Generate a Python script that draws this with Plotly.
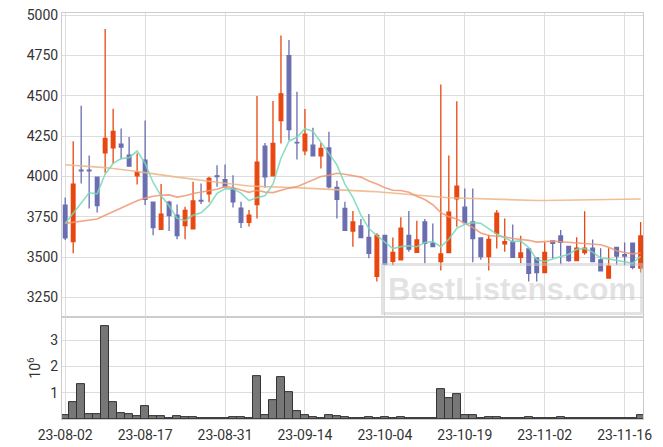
import plotly.graph_objects as go
from plotly.subplots import make_subplots

dates = ["23-08-02","23-08-03","23-08-04","23-08-07","23-08-08","23-08-09","23-08-10","23-08-11","23-08-14","23-08-16",
         "23-08-17","23-08-18","23-08-21","23-08-22","23-08-23","23-08-24","23-08-25","23-08-28","23-08-29","23-08-30",
         "23-08-31","23-09-01","23-09-04","23-09-05","23-09-06","23-09-07","23-09-08","23-09-11","23-09-12","23-09-13",
         "23-09-14","23-09-15","23-09-18","23-09-19","23-09-20","23-09-21","23-09-22","23-09-25","23-09-26","23-09-27",
         "23-10-04","23-10-05","23-10-06","23-10-10","23-10-11","23-10-12","23-10-13","23-10-16","23-10-17","23-10-18",
         "23-10-19","23-10-20","23-10-23","23-10-24","23-10-25","23-10-26","23-10-27","23-10-30","23-10-31","23-11-01",
         "23-11-02","23-11-03","23-11-06","23-11-07","23-11-08","23-11-09","23-11-10","23-11-13","23-11-14","23-11-15",
         "23-11-16","23-11-17","23-11-20"]

open_ = [3823,3596,4040,4040,3996,4146,4177,4200,4132,4004,
         4101,3841,3672,3841,3761,3695,3676,3852,3893,4004,
         3981,3924,3804,3716,3825,4188,4004,4346,4750,4212,
         4159,4194,4128,4177,3932,3802,3662,3693,3623,3380,
         3635,3474,3483,3635,3530,3718,3586,3472,3528,3862,
         3810,3718,3619,3503,3648,3582,3594,3499,3551,3495,
         3404,3600,3631,3567,3479,3528,3555,3483,3370,3561,
         3515,3586,3432]
high = [3870,4218,4439,4130,4000,4915,4420,4297,4245,4142,
        4348,3845,3953,3850,3827,3813,3967,3957,3998,4070,
        4074,4008,3843,3792,4499,4208,4468,4874,4847,4526,
        4418,4303,4208,4278,3973,3843,3786,3736,3767,3648,
        3637,3621,3747,3786,3726,3736,3709,4571,4130,4466,
        3926,3926,3621,3639,3792,3740,3703,3633,3553,3497,
        3592,3600,3668,3569,3623,3785,3610,3555,3555,3561,
        3590,3588,3718]
low = [3606,3524,3957,3802,3777,4023,4080,4107,4060,3951,
       3823,3635,3668,3662,3611,3611,3676,3829,3840,3936,
       3936,3808,3680,3690,3740,3930,4004,4204,4225,4105,
       4132,4128,4049,3926,3740,3666,3565,3621,3493,3349,
       3456,3450,3483,3534,3530,3462,3565,3417,3528,3689,
       3714,3468,3483,3417,3553,3534,3499,3462,3349,3349,
       3404,3493,3456,3472,3479,3514,3472,3415,3370,3452,
       3450,3425,3404]
close = [3619,3953,4035,4035,3819,4237,4280,4183,4064,4027,
         3858,3683,3767,3757,3633,3790,3848,3848,3988,4000,
         3936,3843,3716,3761,4089,3998,4206,4513,4291,4208,
         4262,4128,4175,3936,3858,3666,3718,3621,3524,3635,
         3456,3530,3679,3549,3606,3586,3565,3520,3779,3940,
         3714,3615,3503,3610,3773,3596,3499,3526,3400,3404,
         3530,3586,3592,3479,3555,3555,3472,3415,3446,3507,
         3507,3436,3631]

ma5 = [3709,3771,3837,3899,3892,4016,4081,4111,4117,4158,
       4082,3963,3880,3818,3740,3726,3759,3775,3821,3895,
       3924,3923,3897,3851,3869,3881,3954,4113,4219,4243,
       4296,4280,4213,4142,4072,3953,3871,3760,3677,3633,
       3591,3553,3565,3570,3564,3590,3597,3565,3611,3678,
       3704,3714,3710,3676,3643,3619,3596,3601,3559,3485,
       3472,3489,3502,3518,3548,3553,3531,3495,3489,3479,
       3469,3462,3505]
ma20 = [3709,3716,3722,3729,3736,3760,3783,3806,3828,3850,
        3866,3878,3884,3886,3872,3880,3895,3905,3913,3921,
        3937,3932,3916,3902,3915,3903,3900,3916,3928,3937,
        3957,3979,4000,4008,4020,4014,4007,3996,3972,3954,
        3930,3915,3913,3902,3878,3857,3825,3776,3750,3737,
        3709,3684,3650,3634,3629,3626,3615,3610,3604,3593,
        3596,3599,3595,3591,3589,3587,3582,3577,3561,3539,
        3529,3520,3526]
ma60 = [4073,4070,4067,4063,4060,4055,4050,4045,4038,4031,
        4024,4016,4008,4002,3996,3990,3982,3976,3970,3964,
        3958,3951,3945,3941,3939,3938,3936,3935,3932,3930,
        3928,3926,3924,3922,3920,3918,3915,3912,3908,3905,
        3901,3896,3891,3887,3883,3878,3873,3869,3868,3867,
        3865,3864,3862,3860,3858,3857,3855,3853,3852,3851,
        3851,3852,3852,3853,3854,3855,3857,3858,3859,3859,
        3860,3860,3860]

volume = [0.13,0.63,1.32,0.19,0.17,3.52,0.66,0.24,0.19,0.11,
          0.50,0.11,0.11,0.04,0.11,0.09,0.08,0.04,0.04,0.04,
          0.04,0.08,0.08,0.04,1.65,0.15,0.73,1.61,1.03,0.31,
          0.15,0.08,0.04,0.15,0.11,0.08,0.04,0.04,0.08,0.04,
          0.08,0.04,0.08,0.04,0.02,0.04,0.02,1.15,0.80,0.93,
          0.15,0.15,0.04,0.08,0.08,0.04,0.04,0.02,0.08,0.04,
          0.02,0.04,0.08,0.04,0.04,0.04,0.02,0.04,0.04,0.04,
          0.04,0.04,0.15]

x_ticks = ["23-08-02","23-08-17","23-08-31","23-09-14","23-10-04","23-10-19","23-11-02","23-11-16"]
price_ticks = [3250,3500,3750,4000,4250,4500,4750,5000]
vol_ticks = [1,2,3]

UP = "#E8470F"
DOWN = "#6A6EB0"
FONT = dict(family="Roboto, Arial, sans-serif", size=14, color="#333333")
GRID = "#dddddd"
LINE = "#cccccc"

fig = make_subplots(rows=2, cols=1, shared_xaxes=True, vertical_spacing=0,
                    row_heights=[0.749, 0.251])

fig.add_trace(go.Scatter(x=dates, y=ma60, mode="lines",
                         line=dict(color="rgba(236,180,130,0.85)", width=1.6),
                         hoverinfo="skip", showlegend=False), row=1, col=1)
fig.add_trace(go.Scatter(x=dates, y=ma20, mode="lines",
                         line=dict(color="rgba(238,150,115,0.85)", width=1.6),
                         hoverinfo="skip", showlegend=False), row=1, col=1)
fig.add_trace(go.Scatter(x=dates, y=ma5, mode="lines",
                         line=dict(color="rgba(120,215,185,0.85)", width=1.6),
                         hoverinfo="skip", showlegend=False), row=1, col=1)

fig.add_trace(go.Candlestick(x=dates, open=open_, high=high, low=low, close=close,
                             increasing=dict(line=dict(color=UP, width=1.3), fillcolor=UP),
                             decreasing=dict(line=dict(color=DOWN, width=1.3), fillcolor=DOWN),
                             whiskerwidth=0, showlegend=False), row=1, col=1)

fig.add_trace(go.Bar(x=dates, y=volume, marker=dict(color="#777777", line=dict(color="#333333", width=1)),
                     showlegend=False), row=2, col=1)

fig.update_layout(
    width=663, height=447,
    margin=dict(l=62, r=20, t=13, b=28),
    paper_bgcolor="white", plot_bgcolor="white",
    font=FONT, bargap=0, boxgap=0.35,
    annotations=[dict(text="<b>BestListens.com</b>", xref="paper", yref="paper",
                      x=0.775, y=0.319, xanchor="center", yanchor="middle", showarrow=False,
                      font=dict(family="Liberation Sans, Arial, sans-serif", size=31,
                                color="rgba(200,200,200,0.5)"),
                      bordercolor="rgba(200,200,200,0.5)", borderwidth=3,
                      borderpad=4, width=248, height=38)],
)

fig.update_xaxes(type="category", tickmode="array", tickvals=x_ticks, ticktext=x_ticks,
                 showgrid=True, gridcolor=GRID, gridwidth=1, automargin=False,
                 showline=True, linecolor=LINE, linewidth=1, mirror=True,
                 range=[-0.4, 72.3], rangeslider=dict(visible=False), ticks="")
fig.update_xaxes(showticklabels=False, row=1, col=1)
fig.update_xaxes(showticklabels=True, tickfont=FONT, ticks="outside", ticklen=3,
                 tickcolor="rgba(0,0,0,0)", row=2, col=1)

fig.update_yaxes(tickvals=price_ticks, range=[3128, 5014], showgrid=True, gridcolor=GRID,
                 showline=True, linecolor=LINE, mirror=True, ticks="", zeroline=False,
                 automargin=False, tickfont=FONT, row=1, col=1)
fig.update_yaxes(tickvals=vol_ticks, range=[0, 3.88], showgrid=True, gridcolor=GRID,
                 showline=True, linecolor=LINE, mirror=True, ticks="", zeroline=False,
                 automargin=False, tickfont=FONT,
                 title=dict(text="10<sup>6</sup>", font=FONT, standoff=6),
                 row=2, col=1)

fig.write_html("out.html", config={"displayModeBar": False},
               post_script="document.body.style.margin='0px';")
